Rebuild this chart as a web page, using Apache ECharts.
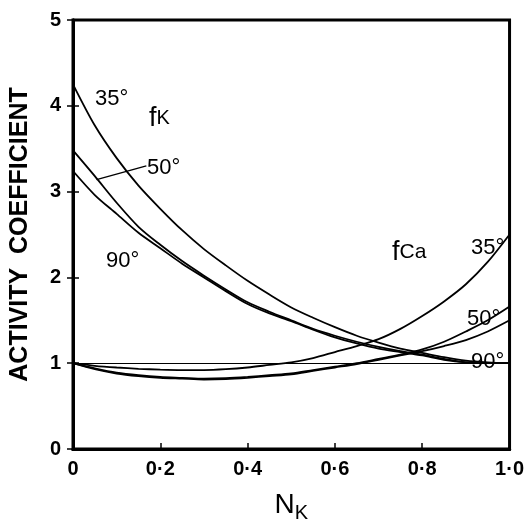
<!DOCTYPE html>
<html>
<head>
<meta charset="utf-8">
<script src="https://cdn.jsdelivr.net/npm/echarts@6/dist/echarts.min.js"></script>
<style>
html,body{margin:0;padding:0;background:#fff;}
#c{width:527px;height:528px;}
</style>
</head>
<body>
<div id="c"></div>
<script>
// Mole fraction N_K (x)
var NK = [0, 0.05, 0.1, 0.15, 0.2, 0.25, 0.3, 0.35, 0.4, 0.45, 0.5, 0.55, 0.6, 0.65, 0.7, 0.75, 0.8, 0.85, 0.9, 0.95, 1.0];
// Activity coefficient f_K
var fK35 = [4.25, 3.77, 3.39, 3.07, 2.80, 2.55, 2.33, 2.14, 1.96, 1.80, 1.65, 1.53, 1.42, 1.32, 1.24, 1.17, 1.12, 1.07, 1.03, 1.01, 1.0];
var fK50 = [3.48, 3.18, 2.87, 2.59, 2.38, 2.19, 2.02, 1.86, 1.71, 1.60, 1.50, 1.40, 1.32, 1.25, 1.19, 1.14, 1.10, 1.05, 1.01, 1.0, 1.0];
var fK90 = [3.24, 2.96, 2.74, 2.52, 2.34, 2.16, 2.00, 1.84, 1.69, 1.58, 1.49, 1.39, 1.30, 1.23, 1.17, 1.13, 1.09, 1.04, 1.01, 1.0, 1.0];
// Activity coefficient f_Ca
var fCa35 = [1.0, 0.97, 0.95, 0.935, 0.925, 0.92, 0.92, 0.93, 0.95, 0.98, 1.01, 1.06, 1.13, 1.20, 1.28, 1.40, 1.55, 1.72, 1.92, 2.18, 2.5];
var fCa50 = [1.0, 0.94, 0.89, 0.86, 0.84, 0.83, 0.82, 0.825, 0.84, 0.86, 0.88, 0.92, 0.96, 1.0, 1.05, 1.10, 1.16, 1.25, 1.37, 1.50, 1.66];
var fCa90 = [1.0, 0.93, 0.88, 0.85, 0.83, 0.82, 0.81, 0.815, 0.83, 0.85, 0.87, 0.91, 0.95, 0.99, 1.04, 1.09, 1.14, 1.20, 1.27, 1.37, 1.50];
// Tick labels
var xTickLabels = ['0', '0\u00b72', '0\u00b74', '0\u00b76', '0\u00b78', '1\u00b70'];
var yTickLabels = ['0', '1', '2', '3', '4', '5'];

function pairs(ys) { return NK.map(function (x, i) { return [x, ys[i]]; }); }

var FONT = 'Liberation Sans';
var chart = echarts.init(document.getElementById('c'), null, {renderer: 'canvas'});

function curve(name, ys, extra) {
  var s = {
    name: name, type: 'line', data: pairs(ys), smooth: 0.3,
    symbol: 'none', lineStyle: {color: '#000', width: 1.8}, silent: true, z: 3
  };
  if (extra) for (var k in extra) s[k] = extra[k];
  return s;
}

var ann = '22px "' + FONT + '"';
var option = {
  animation: false,
  backgroundColor: '#fff',
  grid: {left: 71, right: 15, top: 20, bottom: 63, show: true, borderColor: '#000', borderWidth: 3},
  xAxis: [{
    type: 'value', min: 0, max: 1, interval: 0.2, position: 'bottom',
    name: 'N{s|K}', nameLocation: 'middle', nameGap: 42,
    nameTextStyle: {fontFamily: FONT, fontSize: 28, color: '#000',
      rich: {s: {fontFamily: FONT, fontSize: 20, color: '#000', verticalAlign: 'bottom', padding: [0, 0, -4, 0]}}},
    axisLine: {show: true, lineStyle: {color: '#000', width: 3}},
    axisTick: {show: true, inside: true, length: 6, lineStyle: {color: '#000', width: 1.5}},
    axisLabel: {margin: 10, fontFamily: FONT, fontSize: 20, color: '#000', fontWeight: 'bold',
      formatter: function (v) { return xTickLabels[Math.round(v * 5)]; }},
    splitLine: {show: false}
  }, {
    type: 'value', min: 0, max: 1, interval: 0.2, position: 'top',
    axisLine: {show: true, lineStyle: {color: '#000', width: 3}},
    axisTick: {show: false}, axisLabel: {show: false}, splitLine: {show: false}
  }],
  yAxis: [{
    type: 'value', min: 0, max: 5, interval: 1, position: 'left',
    name: 'ACTIVITY  COEFFICIENT', nameLocation: 'middle', nameGap: 40, nameRotate: 90,
    nameTextStyle: {fontFamily: FONT, fontSize: 25, color: '#000', fontWeight: 'bold'},
    axisLine: {show: true, lineStyle: {color: '#000', width: 3}},
    axisTick: {show: true, inside: true, length: 6, lineStyle: {color: '#000', width: 1.5}},
    axisLabel: {margin: 12, fontFamily: FONT, fontSize: 20, color: '#000', fontWeight: 'bold',
      formatter: function (v) { return yTickLabels[Math.round(v)]; }},
    splitLine: {show: false}
  }, {
    type: 'value', min: 0, max: 5, interval: 1, position: 'right',
    axisLine: {show: true, lineStyle: {color: '#000', width: 3}},
    axisTick: {show: true, inside: true, length: 6, lineStyle: {color: '#000', width: 1.5}},
    axisLabel: {show: false}, splitLine: {show: false}
  }],
  series: [
    curve('fK 35°', fK35, {
      markLine: {
        silent: true, symbol: 'none', animation: false,
        lineStyle: {color: '#000', width: 1, type: 'solid'},
        label: {show: false},
        data: [{yAxis: 1}]
      }
    }),
    curve('fK 50°', fK50, {
      markLine: {
        silent: true, symbol: ['none', 'arrow'], symbolSize: [0, 8], animation: false,
        lineStyle: {color: '#000', width: 1.3, type: 'solid'},
        label: {show: false},
        data: [[{coord: [0.168, 3.30]}, {coord: [0.054, 3.14]}]]
      }
    }),
    curve('fK 90°', fK90),
    curve('fCa 35°', fCa35),
    curve('fCa 50°', fCa50),
    curve('fCa 90°', fCa90)
  ],
  graphic: [
    {type: 'text', left: 95, top: 88, style: {text: '35°', font: ann, fill: '#000'}},
    {type: 'text', left: 149, top: 105, style: {text: '{f|f}{s|K}', fill: '#000',
      rich: {f: {font: '27px "' + FONT + '"', fill: '#000'}, s: {font: '20px "' + FONT + '"', fill: '#000'}}}},
    {type: 'text', left: 147, top: 157, style: {text: '50°', font: ann, fill: '#000'}},
    {type: 'text', left: 106, top: 250, style: {text: '90°', font: ann, fill: '#000'}},
    {type: 'text', left: 392, top: 239, style: {text: '{f|f}{s|Ca}', fill: '#000',
      rich: {f: {font: '27px "' + FONT + '"', fill: '#000'}, s: {font: '21px "' + FONT + '"', fill: '#000'}}}},
    {type: 'text', left: 471, top: 237, style: {text: '35°', font: ann, fill: '#000'}},
    {type: 'text', left: 467, top: 308, style: {text: '50°', font: ann, fill: '#000'}},
    {type: 'text', left: 471, top: 351, style: {text: '90°', font: ann, fill: '#000'}}
  ]
};
chart.setOption(option);
</script>
</body>
</html>
